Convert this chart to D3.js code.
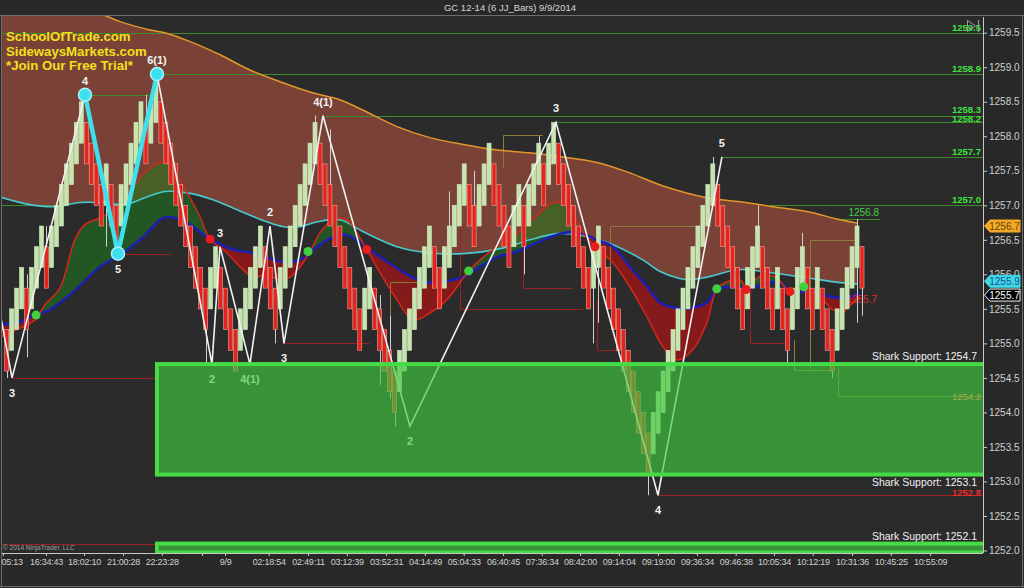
<!DOCTYPE html>
<html><head><meta charset="utf-8">
<script src="https://cdnjs.cloudflare.com/ajax/libs/d3/7.8.5/d3.min.js"></script>
<style>
html,body{margin:0;padding:0;background:#282828;}
svg{display:block;font-family:Arial,"Liberation Sans",sans-serif;}
</style></head><body>
<svg id="c" width="1024" height="588"></svg>
<script>
// ---------------- DATA ----------------
const barOpen = [
1255.2,1254.9,1255.2,1255.5,1255.8,1255.5,1255.8,1256.1,1256.4,1256.1,
1256.4,1256.7,1257.0,1257.3,1257.6,1257.9,1258.2,1257.9,1257.6,1257.3,
1257.0,1257.3,1257.0,1256.7,1257.0,1257.3,1257.6,1257.9,1258.2,1257.9,
1258.2,1258.5,1258.2,1257.9,1257.6,1257.3,1257.0,1256.7,1256.4,1256.1,
1255.8,1255.5,1255.8,1256.1,1255.8,1255.5,1255.2,1254.9,1255.2,1255.5,
1255.8,1256.1,1256.4,1256.1,1255.8,1255.5,1255.8,1256.1,1256.4,1256.7,
1257.0,1257.3,1257.6,1257.9,1257.6,1257.3,1257.0,1256.7,1256.4,1256.1,
1255.8,1255.5,1255.2,1255.5,1255.8,1255.5,1255.2,1254.9,1254.6,1254.3,
1254.6,1254.9,1255.2,1255.5,1255.8,1256.1,1256.4,1256.1,1255.8,1256.1,
1256.4,1256.7,1257.0,1257.3,1257.0,1256.7,1257.0,1257.3,1257.6,1257.3,
1257.0,1256.7,1256.4,1256.7,1257.0,1256.7,1257.0,1257.3,1257.6,1257.3,
1257.6,1257.9,1257.6,1257.3,1257.0,1256.7,1256.4,1256.1,1255.8,1256.1,
1256.4,1256.1,1255.8,1255.5,1255.2,1254.9,1254.6,1254.3,1254.0,1253.7,
1253.4,1253.7,1254.0,1254.3,1254.6,1254.9,1255.2,1255.5,1255.8,1256.1,
1256.4,1256.7,1257.0,1257.3,1257.0,1256.7,1256.4,1256.1,1255.8,1255.5,
1255.8,1256.1,1256.4,1256.1,1255.8,1255.5,1255.8,1255.5,1255.2,1255.5,
1255.8,1256.1,1255.8,1255.5,1255.8,1255.5,1255.2,1254.9,1255.2,1255.5,
1255.8,1256.1,1256.4];
const barClose = [
1254.6,1255.5,1255.8,1256.1,1255.2,1256.1,1256.4,1256.7,1255.8,1256.7,
1257.0,1257.3,1257.6,1257.9,1258.2,1258.5,1257.6,1257.3,1257.0,1256.7,
1257.6,1256.7,1256.4,1257.3,1257.6,1257.9,1258.2,1258.5,1257.6,1258.5,
1258.8,1257.9,1257.6,1257.3,1257.0,1256.7,1256.4,1256.1,1255.8,1255.5,
1255.2,1256.1,1256.4,1255.5,1255.2,1254.9,1254.6,1255.5,1255.8,1256.1,
1256.4,1256.7,1255.8,1255.5,1255.2,1256.1,1256.4,1256.7,1257.0,1257.3,
1257.6,1257.9,1258.2,1257.3,1257.0,1256.7,1256.4,1256.1,1255.8,1255.5,
1255.2,1254.9,1255.8,1256.1,1255.2,1254.9,1254.6,1254.3,1254.0,1254.9,
1255.2,1255.5,1255.8,1256.1,1256.4,1256.7,1255.8,1255.5,1256.4,1256.7,
1257.0,1257.3,1257.6,1256.7,1256.4,1257.3,1257.6,1257.9,1257.0,1256.7,
1256.4,1256.1,1257.0,1257.3,1256.4,1257.3,1257.6,1257.9,1257.0,1257.9,
1258.2,1257.3,1257.0,1256.7,1256.4,1256.1,1255.8,1255.5,1256.4,1256.7,
1255.8,1255.5,1255.2,1254.9,1254.6,1254.3,1254.0,1253.7,1253.4,1253.1,
1254.0,1254.3,1254.6,1254.9,1255.2,1255.5,1255.8,1256.1,1256.4,1256.7,
1257.0,1257.3,1257.6,1256.7,1256.4,1256.1,1255.8,1255.5,1255.2,1256.1,
1256.4,1256.7,1255.8,1255.5,1255.2,1256.1,1255.2,1254.9,1255.8,1256.1,
1256.4,1255.5,1255.2,1256.1,1255.2,1254.9,1254.6,1255.5,1255.8,1256.1,
1256.4,1256.7,1255.8];

const wickIdx  = [0,4,8,20,22,28,30,40,42,46,54,62,65,75,77,78,89,94,104,107,118,119,129,142,151,157,160,166,171,172];
const wickHigh = [1255.2,1256.0,1256.7,1257.6,1257.0,1258.6,1258.9,1255.8,1256.4,1255.2,1255.8,1258.3,1258.1,1255.7,1255.4,1254.6,1257.2,1257.5,1257.0,1258.0,1256.4,1256.7,1253.7,1257.7,1257.0,1255.5,1256.6,1255.2,1256.8,1256.4];
const wickLow  = [1254.5,1254.8,1255.8,1256.4,1256.3,1257.6,1258.2,1254.7,1255.8,1254.6,1255.0,1257.6,1256.7,1254.4,1254.2,1253.8,1256.1,1256.4,1256.0,1257.3,1255.0,1255.3,1252.8,1257.0,1256.1,1254.7,1255.8,1254.5,1255.3,1255.4];

const orangeIdx   = [-1.35,9,19.4,22.8,28.8,31.8,36.9,42.9,48.9,55.0,61.0,67.0,71.6,78.5,85.1,91.8,98.6,105.2,111.9,118.7,125.3,132.0,140.8,147.5,154.1,160.9,167.6,171.2];
const orangePrice = [1260.3,1260.05,1259.76,1259.66,1259.54,1259.5,1259.37,1259.18,1258.96,1258.79,1258.64,1258.53,1258.38,1258.14,1257.98,1257.88,1257.80,1257.76,1257.70,1257.62,1257.47,1257.28,1257.11,1257.05,1256.98,1256.91,1256.79,1256.74];

const cyanIdx   = [-1.35,4.7,9.7,14.7,18.8,23.8,27.8,31.8,36.3,41.5,45.5,52.3,55.6,59.0,62.4,67.0,71.6,78.5,85.1,91.8,99.8,105.2,110.7,115.9,121.9,127.9,131.4,134.8,137.4,140.8,147.5,154.1,160.9,167.6,171.2];
const cyanPrice = [1257.12,1257.01,1256.98,1257.04,1257.04,1257.01,1257.11,1257.2,1257.18,1257.08,1256.96,1256.76,1256.69,1256.69,1256.76,1256.79,1256.62,1256.40,1256.31,1256.30,1256.38,1256.50,1256.59,1256.56,1256.43,1256.21,1256.04,1255.95,1255.92,1255.96,1256.07,1256.02,1255.95,1255.88,1255.86];

const blueIdx   = [-1.35,2.7,5.7,8.7,12.7,18.8,22.8,26.8,30.8,32.2,36.3,40.3,45.5,49.5,55.6,59.0,62.4,65.6,68.4,75.1,81.7,85.1,91.8,95.2,98.6,102.6,106.6,111.9,115.3,118.7,121.9,125.3,128.8,131.4,134.8,137.4,140.8,142.8,146.0,149.5,152.9,155.5,158.1,162.1,166.1,169.0,171.6];
const bluePrice = [1255.27,1255.31,1255.41,1255.49,1255.70,1256.11,1256.28,1256.50,1256.79,1256.83,1256.75,1256.54,1256.36,1256.31,1256.18,1256.21,1256.40,1256.54,1256.57,1256.25,1255.95,1255.88,1255.96,1256.11,1256.25,1256.33,1256.46,1256.60,1256.60,1256.50,1256.40,1256.11,1255.82,1255.59,1255.51,1255.51,1255.59,1255.78,1255.82,1255.80,1255.88,1255.88,1255.75,1255.75,1255.67,1255.66,1255.73];

const redIdx   = [-1.35,2.7,5.7,7.7,10.7,13.7,15.7,18.8,22.8,25.8,28.8,31.8,33.4,36.3,38.9,40.9,44.3,46.9,49.5,52.3,55.0,57.0,59.0,61.0,63.0,65.6,68.4,71.6,75.1,78.5,81.7,85.1,88.5,92.9,95.2,98.6,101.8,105.2,108.6,110.7,113.3,115.9,118.3,121.9,125.3,128.8,132.0,134.8,138.0,140.8,142.8,144.8,147.5,148.9,150.9,152.9,154.9,157.5,160.3,163.6,166.1,168.2,170.2,171.6];
const redPrice = [1255.09,1255.22,1255.34,1255.56,1255.80,1256.50,1256.72,1256.82,1256.98,1257.30,1257.54,1257.62,1257.51,1257.18,1256.83,1256.51,1256.31,1256.11,1255.96,1255.99,1255.92,1255.96,1256.11,1256.33,1256.60,1256.79,1256.79,1256.46,1256.02,1255.63,1255.34,1255.44,1255.63,1256.05,1256.21,1256.40,1256.54,1256.75,1256.98,1257.05,1256.93,1256.60,1256.40,1256.17,1255.82,1255.38,1254.95,1254.76,1254.91,1255.30,1255.79,1255.89,1255.92,1255.78,1255.95,1255.99,1255.95,1255.75,1255.82,1255.67,1255.49,1255.46,1255.59,1255.67];

const zzIdx   = [-1.35,1.07,15.74,22.38,30.22,41.28,42.89,48.92,52.95,55.76,63.6,81.1,110.46,130.97,143.83];
const zzPrice = [1255.45,1254.5,1258.6,1256.3,1258.9,1254.7,1256.4,1254.7,1256.7,1255.0,1258.3,1253.8,1258.2,1252.8,1257.7];
const zzLabel = ["","3","4","5","6(1)","2","3","4(1)","2","3","4(1)","2","3","4","5"];
const cyanZzIdx   = [15.74,22.38,30.22];
const cyanZzPrice = [1258.6,1256.3,1258.9];

const dotIdx   = [5.9,60.6,92.9,142.8,160.3,40.9,72.4,118.3,148.7,157.5];
const dotPrice = [1255.41,1256.33,1256.05,1255.79,1255.82,1256.51,1256.36,1256.40,1255.78,1255.75];
const dotKind  = ["g","g","g","g","g","r","r","r","r","r"];

const levelPrice = [1259.5,1258.9,1258.6,1258.3,1258.2,1257.7,1257.0,1257.0,1256.8,1254.5,1256.3,1255.0,1252.8,1252.1];
const levelFrom  = [-1.35,30.22,15.74,63.6,110.46,143.83,153.5,-1.35,167.6,1.07,22.4,55.76,130.97,-1.35];
const levelTo    = [196.3,196.3,29.8,196.3,196.3,196.3,196.3,9.7,175.6,30.2,33.0,73.0,196.3,196.3];
const levelKind  = ["g","g","g","g","g","g","g","g","g","r","r","r","r","r"];
const levelTextPrice = [1259.5,1258.9,1258.3,1258.2,1257.7,1257.0];

const brFrom  = [91.2,103.8,99.8,118.7,121.3,149.5,158.3,161.5,167.2,77.1];
const brTo    = [115.9,113.9,107.8,123.3,140.4,156.9,166.1,171.0,196.3,85.1];
const brLevel = [1255.50,1255.80,1258.02,1254.91,1256.70,1255.01,1254.62,1256.50,1254.24,1255.89];
const brStart = [1257.30,1256.64,1257.54,1255.63,1255.78,1255.78,1255.05,1254.62,1254.66,1255.20];
const brKind  = ["r","r","o","r","o","r","o","o","o","o"];

const zoneTop    = [1254.7,1252.1];
const zoneBottom = [1253.1,1251.97];
const zoneStart  = 30.22;
const sharkText  = ["Shark Support: 1254.7","Shark Support: 1253.1","Shark Support: 1252.1"];
const sharkPrice = [1254.7,1253.1,1252.1];

const yTicks = [1252.0,1252.5,1253.0,1253.5,1254.0,1254.5,1255.0,1255.5,1256.0,1256.5,1257.0,1257.5,1258.0,1258.5,1259.0,1259.5];
const xTickIdx = [-0.75,7.9,15.55,23.4,31.2,39.3,43.9,52.7,60.6,68.4,76.3,84.1,91.9,99.8,107.6,115.3,123.1,130.97,138.8,146.6,154.3,162.1,170.0,177.8,185.7];
const xTickLabels = ["05:13","16:34:43","18:02:10","21:00:28","22:23:28","","9/9","02:18:54","02:49:11","03:12:39","03:52:31","04:14:49","05:04:33","06:40:45","07:36:34","08:42:00","09:14:04","09:19:00","09:36:34","09:46:38","10:05:34","10:12:19","10:31:36","10:45:25","10:55:09"];

const tagPrice = [1256.7,1255.9,1255.7];
const tagKind  = ["orange","cyan","black"];

const titleText = "GC 12-14 (6 JJ_Bars)  9/9/2014";
const logoLines = ["SchoolOfTrade.com","SidewaysMarkets.com","*Join Our Free Trial*"];

// ---------------- DRAW ----------------
const W=1024,H=588;
const P={l:2,t:15,r:983,b:553};
const x=d3.scaleLinear().domain([0,172]).range([6.7,862]);
const y=d3.scaleLinear().domain([1252,1259.5]).range([550.5,32.7]);
const svg=d3.select("#c");

svg.append("rect").attr("width",W).attr("height",H).attr("fill","#282828");
svg.append("rect").attr("x",P.l).attr("y",P.t).attr("width",P.r-P.l).attr("height",P.b-P.t).attr("fill","#2b2b2b");

const defs=svg.append("defs");
defs.append("clipPath").attr("id","plot").append("rect")
  .attr("x",P.l).attr("y",P.t).attr("width",P.r-P.l).attr("height",P.b-P.t);

const g=svg.append("g").attr("clip-path","url(#plot)");
const pts=(ix,pr)=>ix.map((d,i)=>[x(d),y(pr[i])]);
const line=d3.line().curve(d3.curveCatmullRom.alpha(0.5));
const oP=pts(orangeIdx,orangePrice), cP=pts(cyanIdx,cyanPrice), bP=pts(blueIdx,bluePrice), rP=pts(redIdx,redPrice);
function band(a,b){const p1=line(a),p2=line(b.slice().reverse());return p1+"L"+p2.slice(1)+"Z";}

// brown cloud
g.append("path").attr("d",band(oP,cP)).attr("fill","#7a4236");

// clip regions above / below blue
const bl=line(bP), bx0=bP[0][0], bx1=bP[bP.length-1][0];
defs.append("clipPath").attr("id","aboveBlue").append("path").attr("d",bl+`L${bx1},${P.t-60}L${bx0},${P.t-60}Z`);
defs.append("clipPath").attr("id","belowBlue").append("path").attr("d",bl+`L${bx1},${P.b+60}L${bx0},${P.b+60}Z`);
const rb=band(rP,bP);
g.append("g").attr("clip-path","url(#aboveBlue)").append("path").attr("d",rb).attr("fill","#1c7a1c").attr("fill-opacity",0.55);
g.append("g").attr("clip-path","url(#belowBlue)").append("path").attr("d",rb).attr("fill","#a81414").attr("fill-opacity",0.72);

// level lines
const lvlColor={g:"#3e8c2c",r:"#9c2222",o:"#8a7d3a"};
levelPrice.forEach((p,i)=>{
  g.append("line").attr("x1",x(levelFrom[i])).attr("x2",x(levelTo[i]))
   .attr("y1",Math.round(y(p))+0.5).attr("y2",Math.round(y(p))+0.5)
   .attr("stroke",lvlColor[levelKind[i]]).attr("stroke-width",1);
});
brLevel.forEach((p,i)=>{
  const yy=Math.round(y(p))+0.5, xx=Math.round(x(brFrom[i]))+0.5;
  g.append("path").attr("d",`M${xx},${y(brStart[i])}L${xx},${yy}L${x(brTo[i])},${yy}`)
   .attr("fill","none").attr("stroke",lvlColor[brKind[i]]).attr("stroke-width",1);
});

// MA lines
g.append("path").attr("d",line(oP)).attr("fill","none").attr("stroke","#e4962a").attr("stroke-width",1.5);
g.append("path").attr("d",line(cP)).attr("fill","none").attr("stroke","#48c8cf").attr("stroke-width",1.6);
g.append("path").attr("d",line(bP)).attr("fill","none").attr("stroke","#1e1eb0").attr("stroke-width",2.6);
g.append("path").attr("d",line(rP)).attr("fill","none").attr("stroke","#d8261c").attr("stroke-width",1.5);

// red last value text (behind bars)
g.append("text").attr("x",877).attr("y",y(1255.7)+8).attr("text-anchor","end")
 .attr("font-size",10).attr("fill","#e22a2a").text("1255.7");

// wicks
wickIdx.forEach((b,i)=>{
  const xx=Math.round(x(b))+0.5;
  g.append("line").attr("x1",xx).attr("x2",xx).attr("y1",y(wickHigh[i])).attr("y2",y(wickLow[i]))
   .attr("stroke","#cfcfcf").attr("stroke-width",1);
});
// bars
barOpen.forEach((o,i)=>{
  const c=barClose[i], up=c>o;
  const y0=y(Math.max(o,c)), y1=y(Math.min(o,c));
  g.append("rect").attr("x",x(i)-2).attr("y",y0).attr("width",4).attr("height",y1-y0)
   .attr("fill",up?"#c5e4ae":"#e4231d")
   .attr("stroke",up?"#d6eec6":"#f3a59c").attr("stroke-width",0.6);
});

// white zigzag + labels
g.append("path").attr("d",d3.line()(pts(zzIdx,zzPrice))).attr("fill","none").attr("stroke","#f2f2f2").attr("stroke-width",1.6);
zzLabel.forEach((t,i)=>{
  if(!t) return;
  const hi=zzPrice[i]>zzPrice[i-1];
  g.append("text").attr("x",x(zzIdx[i])).attr("y",y(zzPrice[i])+(hi?-10:19))
   .attr("text-anchor","middle").attr("font-size",11).attr("font-weight","bold").attr("fill","#f2f2f2").text(t);
});

// shark support zones
zoneTop.forEach((t,i)=>{
  const y0=y(t), y1=y(zoneBottom[i]);
  g.append("rect").attr("x",x(zoneStart)).attr("y",y0).attr("width",P.r-x(zoneStart)+10).attr("height",y1-y0)
   .attr("fill","#40c840").attr("fill-opacity",0.66)
   .attr("stroke","#46dc46").attr("stroke-width",4);
});
sharkText.forEach((t,i)=>{
  const yy=y(sharkPrice[i]);
  const dy = i===1 ? 11 : -4;
  g.append("text").attr("x",977).attr("y",yy+dy).attr("text-anchor","end")
   .attr("font-size",10.5).attr("fill","#f0f0f0").text(t);
});

// right side level labels
levelTextPrice.forEach((p,i)=>{
  const dy = p===1258.3 ? -3 : (p===1258.2 ? 0 : -2);
  g.append("text").attr("x",981).attr("y",y(p)+dy).attr("text-anchor","end")
   .attr("font-size",9.5).attr("font-weight","bold").attr("fill","#3fe03f").text(d3.format(".1f")(p));
});
g.append("text").attr("x",879).attr("y",y(1256.8)-3).attr("text-anchor","end").attr("font-size",10).attr("fill","#46d046").text("1256.8");
g.append("text").attr("x",981).attr("y",y(1254.2)+1).attr("text-anchor","end").attr("font-size",9.5).attr("fill","#a8a84a").text("1254.2");
g.append("text").attr("x",981).attr("y",y(1252.8)+1).attr("text-anchor","end").attr("font-size",9.5).attr("font-weight","bold").attr("fill","#ee2a2a").text("1252.8");

// signal dots
dotIdx.forEach((d,i)=>{
  g.append("circle").attr("cx",x(d)).attr("cy",y(dotPrice[i])).attr("r",4.5)
   .attr("fill",dotKind[i]==="g"?"#3fcf3f":"#ec1c1c");
});

// cyan zigzag
g.append("path").attr("d",d3.line()(pts(cyanZzIdx,cyanZzPrice))).attr("fill","none").attr("stroke","#3ee0ee").attr("stroke-width",4.5);
cyanZzIdx.forEach((d,i)=>{
  g.append("circle").attr("cx",x(d)).attr("cy",y(cyanZzPrice[i])).attr("r",6.5).attr("fill","#3ee0ee").attr("stroke","#a8f6fb").attr("stroke-width",1.5);
});

// frame
svg.append("line").attr("x1",0).attr("x2",W).attr("y1",15.5).attr("y2",15.5).attr("stroke","#6e6e6e");
svg.append("line").attr("x1",1.5).attr("x2",1.5).attr("y1",15).attr("y2",587).attr("stroke","#6e6e6e");
svg.append("line").attr("x1",1022.5).attr("x2",1022.5).attr("y1",15).attr("y2",587).attr("stroke","#6e6e6e");
svg.append("line").attr("x1",0).attr("x2",W).attr("y1",586.5).attr("y2",586.5).attr("stroke","#6e6e6e");

// axes
const ya=svg.append("g").attr("transform",`translate(${P.r},0)`)
  .call(d3.axisRight(y).tickValues(yTicks).tickFormat(d3.format(".1f")).tickSize(4).tickPadding(2));
ya.select(".domain").remove();
ya.selectAll("line").attr("stroke","#c8c8c8");
ya.selectAll("text").attr("fill","#cfcfcf").attr("font-size",10).attr("font-family","Arial,'Liberation Sans',sans-serif");
svg.append("line").attr("x1",P.r+0.5).attr("x2",P.r+0.5).attr("y1",17).attr("y2",P.b).attr("stroke","#c8c8c8");

const xa=svg.append("g").attr("transform",`translate(0,${P.b})`)
  .call(d3.axisBottom(x).tickValues(xTickIdx).tickFormat((d,i)=>xTickLabels[i]).tickSize(3).tickPadding(3));
xa.select(".domain").remove();
xa.selectAll("line").attr("stroke","#c8c8c8");
xa.selectAll("text").attr("fill","#cfcfcf").attr("font-size",9).attr("letter-spacing","-0.25")
  .attr("font-family","Arial,'Liberation Sans',sans-serif");
xa.selectAll("text").filter((d,i)=>i===0).attr("text-anchor","start").attr("x",-2);
svg.append("line").attr("x1",P.l).attr("x2",P.r).attr("y1",P.b+0.5).attr("y2",P.b+0.5).attr("stroke","#c8c8c8");

// price tags
const tagStyle={orange:["#f2a928","#f2a928","#6b4200"],cyan:["#3fd8e6","#3fd8e6","#1a4f8f"],black:["#000","#f0f0f0","#ffffff"]};
tagPrice.forEach((p,i)=>{
  const yy=y(p), s=tagStyle[tagKind[i]];
  svg.append("path").attr("d",`M984.5,${yy}L990,${yy-6}L1020,${yy-6}L1020,${yy+6}L990,${yy+6}Z`)
    .attr("fill",s[0]).attr("stroke",s[1]).attr("stroke-width",1);
  svg.append("text").attr("x",1004.5).attr("y",yy+3.6).attr("text-anchor","middle")
    .attr("font-size",10).attr("fill",s[2]).text(d3.format(".1f")(p));
});

// icon
svg.append("path").attr("d","M967.5,20.5L975.5,26L967.5,31.5Z").attr("fill","none").attr("stroke","#9a9a9a");
svg.append("line").attr("x1",978.5).attr("x2",978.5).attr("y1",20).attr("y2",32).attr("stroke","#9a9a9a");

// copyright
svg.append("text").attr("x",3).attr("y",550).attr("font-size",6.5).attr("fill","#a0a0a0").text("\u00a9 2014 NinjaTrader, LLC");

// logo
logoLines.forEach((t,i)=>{
  svg.append("text").attr("x",6).attr("y",41+i*14.7).attr("font-size",13.2).attr("font-weight","bold")
   .attr("fill","#f0e01c").text(t);
});

// title
svg.append("text").attr("x",510).attr("y",10.5).attr("text-anchor","middle").attr("font-size",9.5)
  .attr("fill","#d6d6d6").text(titleText);
</script>
</body></html>
